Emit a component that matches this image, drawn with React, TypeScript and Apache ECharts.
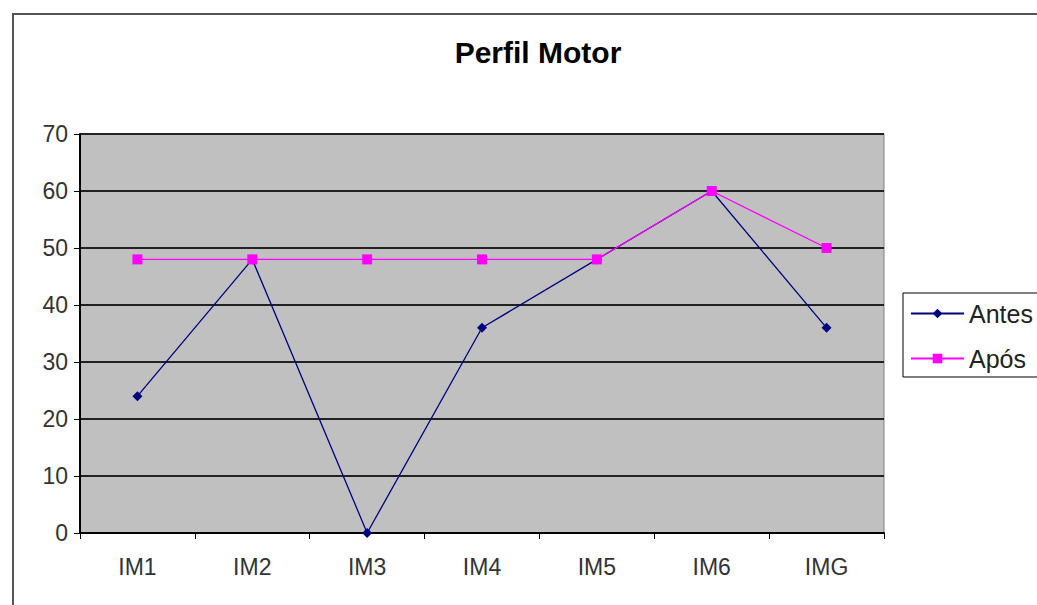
import React, { useEffect, useRef } from "react";
import * as echarts from "echarts";

const categories = ["IM1", "IM2", "IM3", "IM4", "IM5", "IM6", "IMG"];
const antes = [24, 48, 0, 36, 48, 60, 36];
const apos = [48, 48, 48, 48, 48, 60, 50];
const titleText = "Perfil Motor";
const seriesNames = ["Antes", "Após"];

export default function App() {
  const ref = useRef<HTMLDivElement>(null);
  useEffect(() => {
    if (!ref.current) return;
    const chart = echarts.init(ref.current, undefined, { renderer: "svg" });
    const font = "Arial, 'Liberation Sans', sans-serif";
    chart.setOption({
      animation: false,
      backgroundColor: "#ffffff",
      graphic: [
        {
          type: "rect",
          shape: { x: 13, y: 14, width: 1200, height: 800 },
          style: { fill: "none", stroke: "#555", lineWidth: 2 },
          z: -1,
        },
      ],
      title: {
        text: titleText,
        left: 533,
        top: 32,
        textAlign: "center",
        textStyle: { fontFamily: font, fontSize: 30, fontWeight: "bold", color: "#000" },
      },
      legend: {
        orient: "vertical",
        left: 903,
        top: 293,
        padding: [8, 16, 6, 7],
        itemGap: 20,
        itemWidth: 53,
        itemHeight: 12,
        borderColor: "#000",
        borderWidth: 1,
        backgroundColor: "#fff",
        data: seriesNames,
        textStyle: { fontFamily: font, fontSize: 25, color: "#222", padding: [0, 0, 0, 0] },
      },
      grid: {
        left: 80,
        top: 134,
        right: 153,
        bottom: 72,
        show: true,
        backgroundColor: "#C0C0C0",
        borderColor: "#808080",
        borderWidth: 1,
      },
      xAxis: {
        type: "category",
        data: categories,
        boundaryGap: true,
        axisLine: { lineStyle: { color: "#000", width: 2 } },
        axisTick: { show: true, length: 6, alignWithLabel: false, lineStyle: { color: "#000" } },
        axisLabel: { fontFamily: font, fontSize: 23, color: "#333", margin: 22 },
        splitLine: { show: false },
      },
      yAxis: {
        type: "value",
        min: 0,
        max: 70,
        interval: 10,
        axisLine: { show: true, lineStyle: { color: "#000", width: 2 } },
        axisTick: { show: true, length: 6, lineStyle: { color: "#000" } },
        axisLabel: { fontFamily: font, fontSize: 23, color: "#333", margin: 12 },
        splitLine: { show: true, lineStyle: { color: "#222", width: 2 } },
      },
      series: [
        {
          name: seriesNames[0],
          type: "line",
          data: antes,
          symbol: "diamond",
          symbolSize: 10,
          itemStyle: { color: "#000080" },
          lineStyle: { color: "#000080", width: 1.3 },
          z: 3,
        },
        {
          name: seriesNames[1],
          type: "line",
          data: apos,
          symbol: "rect",
          symbolSize: 10,
          itemStyle: { color: "#FF00FF" },
          lineStyle: { color: "#FF00FF", width: 1.3 },
          z: 4,
        },
      ],
    });
    return () => chart.dispose();
  }, []);
  return (
    <div
      ref={ref}
      style={{ position: "absolute", left: 0, top: 0, width: 1037, height: 605 }}
    />
  );
}
